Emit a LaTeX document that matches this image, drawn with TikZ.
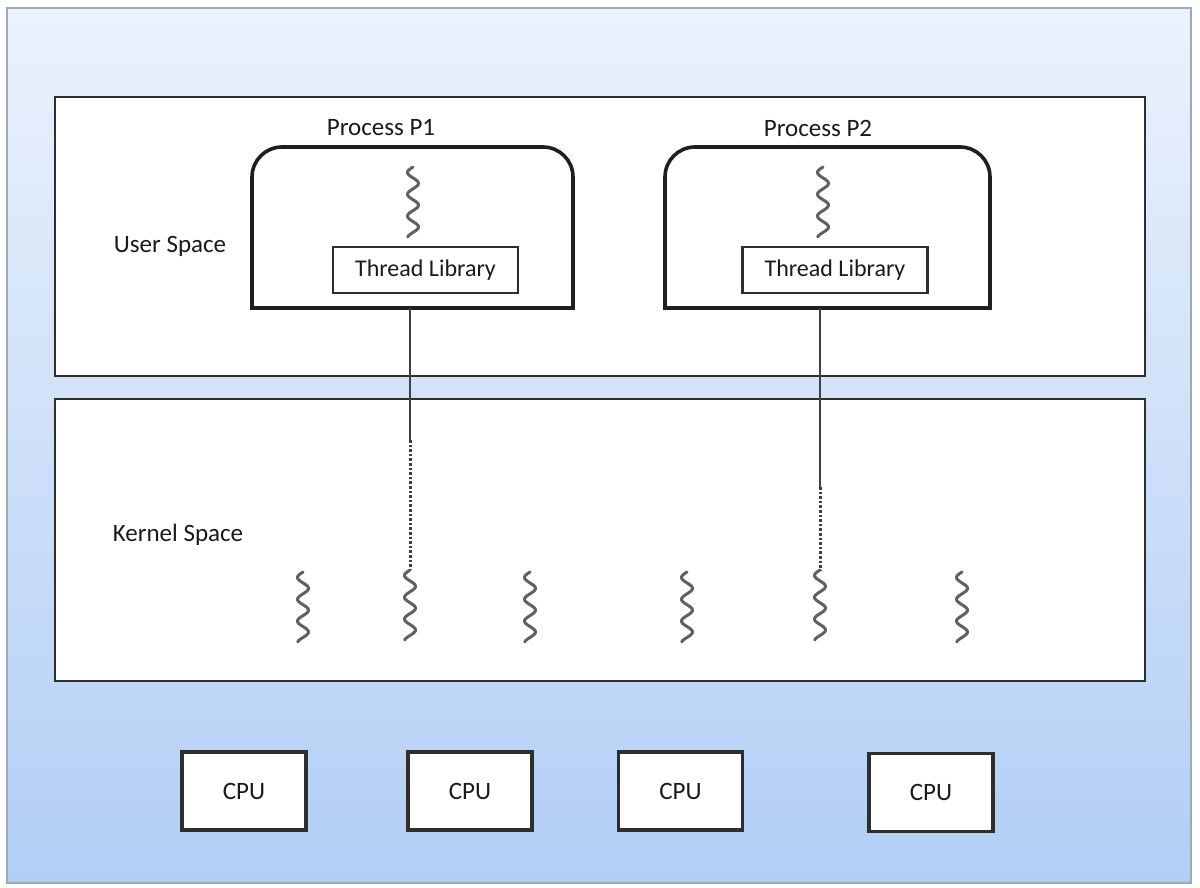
\documentclass[tikz,border=0pt]{standalone}
\usepackage{fontspec}
\setmainfont{Carlito}
\begin{document}
\begin{tikzpicture}[x=1pt,y=-1pt,
  box/.style={draw=boxline, line width=2.8pt, fill=white},
  lbl/.style={text=txt, inner sep=0pt, font=\fontsize{25}{30}\selectfont},
  proc/.style={draw=black!88, line width=3.6pt, fill=white},
  lib/.style={draw=boxline, line width=2.1pt, fill=white, inner sep=0pt,
    minimum width=185, minimum height=46, text=txt,
    font=\fontsize{24}{28}\selectfont},
  cpu/.style={draw=boxline, line width=3.2pt, fill=white, inner sep=0pt,
    minimum width=124, minimum height=78, text=txt,
    font=\fontsize{25}{30}\selectfont},
  conn/.style={draw=black!75, line width=2.6pt},
  dotseg/.style={draw=black!75, line width=3pt, dash pattern=on 2.6pt off 2pt},
  squig/.style={draw=black!62, line width=3pt, line cap=round},
  squiggle/.pic={
    \draw[squig] plot[domain=0:70, samples=90, smooth]
      ({-5.5*sin(16.5*\x)}, {\x});
  }]
\definecolor{boxline}{HTML}{2E2E2E}
\definecolor{txt}{HTML}{1A1A1A}
\definecolor{bgtop}{HTML}{EBF2FC}
\definecolor{bgbot}{HTML}{B2CEF5}
\definecolor{frame}{HTML}{9EA9B6}
\useasboundingbox (0,0) rectangle (1200,888);
\fill[white] (0,0) rectangle (1200,888);

% outer panel with vertical gradient
\shade[top color=bgtop, bottom color=bgbot] (7,8) rectangle (1191,883);
\draw[frame, line width=2.2pt] (7,8) rectangle (1191,883);

% user and kernel space panels
\node[box, inner sep=0pt, minimum width=1090, minimum height=279] (user) at (600,236.5) {};
\node[box, inner sep=0pt, minimum width=1090, minimum height=282] (kernel) at (600,540) {};
\node[lbl] (userlbl) at (170,246) {User Space};
\node[lbl] (kernlbl) at (178,535) {Kernel Space};

% process P1
\node[lbl] (p1lbl) at (381,128) {Process P1};
\draw[proc] (252,308) -- (252,177) arc(180:270:30) -- (543,147) arc(270:360:30) -- (573,308) -- cycle;
\coordinate (p1bot) at (410,308);
\pic at (413,167) {squiggle};
\node[lib] (lib1) at (425.5,270) {Thread Library};

% process P2
\node[lbl] (p2lbl) at (818,128) {Process P2};
\draw[proc] (665,308) -- (665,177) arc(180:270:30) -- (960,147) arc(270:360:30) -- (990,308) -- cycle;
\coordinate (p2bot) at (820,308);
\pic at (823,167) {squiggle};
\node[lib] (lib2) at (835,270) {Thread Library};

% links from the thread libraries to kernel threads
\coordinate (k1a) at (410,440);
\coordinate (k1b) at (410,570);
\coordinate (k2a) at (820,487);
\coordinate (k2b) at (820,570);
\draw[conn] (p1bot) -- (k1a);
\draw[dotseg] (k1a) -- (k1b);
\draw[conn] (p2bot) -- (k2a);
\draw[dotseg] (k2a) -- (k2b);

% kernel threads
\pic at (303,572) {squiggle};
\pic at (410,570) {squiggle};
\pic at (530,572) {squiggle};
\pic at (687,572) {squiggle};
\pic at (820,570) {squiggle};
\pic at (962,572) {squiggle};

% processors
\node[cpu] (cpu1) at (244,791) {CPU};
\node[cpu] (cpu2) at (470,791) {CPU};
\node[cpu] (cpu3) at (680.5,791) {CPU};
\node[cpu] (cpu4) at (931,792.5) {CPU};
\end{tikzpicture}
\end{document}
